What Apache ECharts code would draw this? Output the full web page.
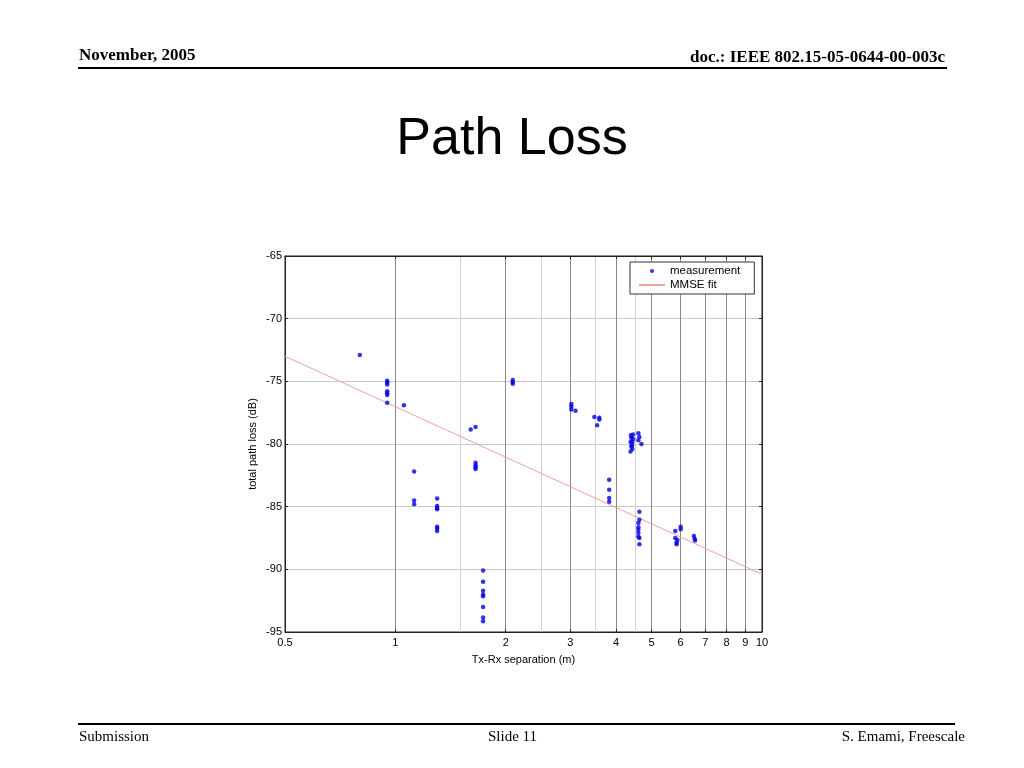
<!DOCTYPE html>
<html>
<head>
<meta charset="utf-8">
<script src="https://cdn.jsdelivr.net/npm/echarts@6/dist/echarts.min.js"></script>
<style>
html,body{margin:0;padding:0;background:#fff;}
#chart{width:1024px;height:768px;}
</style>
</head>
<body>
<div id="chart"></div>
<script>
// ---- data ----
var measDist = [
  0.80,
  0.95,0.95,0.95,0.95,0.95,0.95,0.95,
  1.055,
  1.125,1.125,1.125,
  1.30,1.30,1.30,1.30,1.30,1.30,1.30,
  1.605,1.655,
  1.655,1.655,1.655,1.655,
  1.735,1.735,1.735,1.735,1.735,1.735,1.735,1.735,
  2.09,2.09,2.09,
  3.02,3.02,3.02,3.10,
  3.49,3.60,3.60,3.55,
  3.83,3.83,3.83,3.83,
  4.39,4.45,4.60,4.40,4.43,4.63,4.60,4.69,4.40,4.43,4.38,4.42,4.45,4.38,
  4.63,4.63,4.60,4.60,4.60,4.60,4.60,4.63,4.63,
  5.80,6.00,6.00,5.80,5.88,5.85,5.85,
  6.52,6.55,6.57
];
var measLoss = [
  -72.9,
  -74.95,-75.1,-75.25,-75.8,-75.95,-76.1,-76.7,
  -76.9,
  -82.2,-84.5,-84.8,
  -84.35,-84.95,-85.1,-85.2,-86.6,-86.75,-86.95,
  -78.85,-78.65,
  -81.5,-81.7,-81.85,-82.0,
  -90.1,-91.0,-91.7,-92.0,-92.15,-93.0,-93.85,-94.15,
  -74.9,-75.05,-75.2,
  -76.8,-77.0,-77.25,-77.35,
  -77.85,-77.9,-78.05,-78.5,
  -82.85,-83.65,-84.3,-84.6,
  -79.3,-79.25,-79.15,-79.5,-79.85,-79.45,-79.7,-80.0,-80.2,-80.4,-80.6,-80.1,-79.6,-79.85,
  -85.4,-86.05,-86.3,-86.65,-86.85,-87.1,-87.4,-87.5,-88.0,
  -86.95,-86.6,-86.8,-87.5,-87.65,-87.85,-88.0,
  -87.35,-87.55,-87.7
];
var fitDist = [0.5, 10];
var fitLoss = [-73.0, -90.4];
var xTickMajor = [0.5,1,2,3,4,5,6,7,8,9,10];
var xTickMinor = [1.5,2.5,3.5,4.5];
var yTicks = [-95,-90,-85,-80,-75,-70,-65];

var measData = measDist.map(function(d,i){return [d, measLoss[i]];});
var fitData = fitDist.map(function(d,i){return [d, fitLoss[i]];});

var chart = echarts.init(document.getElementById('chart'), null, {renderer:'canvas'});
var axisFont = {fontFamily:'Liberation Sans, Arial, sans-serif', fontSize:11, color:'#000'};

var option = {
  backgroundColor:'#fff',
  animation:false,
  grid:{left:285, top:256, right:262, bottom:136, show:true, borderColor:'#222', borderWidth:1, backgroundColor:'transparent', containLabel:false},
  legend:{
    left:630, top:262, orient:'vertical',
    data:[{name:'measurement'},{name:'MMSE fit', itemStyle:{opacity:0}}],
    borderColor:'#333', borderWidth:1, backgroundColor:'#fff',
    padding:[2,14,2,8], itemGap:0, itemWidth:26, itemHeight:4,
    textStyle:{fontFamily:'Liberation Sans, Arial, sans-serif', fontSize:11.5, color:'#000', lineHeight:14}
  },
  xAxis:[{
    type:'log', logBase:10, min:0.5, max:10,
    name:'Tx-Rx separation (m)', nameLocation:'middle', nameGap:22,
    nameTextStyle:axisFont,
    axisLine:{show:true, lineStyle:{color:'#222'}},
    axisTick:{show:true, inside:true, length:3, customValues:xTickMajor, lineStyle:{color:'#222'}},
    axisLabel:Object.assign({customValues:xTickMajor, margin:5, formatter:function(v){return String(+v.toFixed(2));}}, axisFont),
    splitLine:{show:true, lineStyle:{color:'#8a8a8a', width:1}},
    minorTick:{show:false}
  },{
    type:'log', logBase:10, min:0.5, max:10, position:'bottom',
    axisLine:{show:false},
    axisTick:{show:false, customValues:xTickMinor},
    axisLabel:{show:false, customValues:xTickMinor},
    splitLine:{show:true, lineStyle:{color:'#d2d2d2', width:1}}
  },{
    type:'log', logBase:10, min:0.5, max:10, position:'top',
    axisLine:{show:true, lineStyle:{color:'#222'}},
    axisTick:{show:true, inside:true, length:3, customValues:xTickMajor, lineStyle:{color:'#222'}},
    axisLabel:{show:false, customValues:xTickMajor},
    splitLine:{show:false}
  }],
  yAxis:[{
    type:'value', min:-95, max:-65, interval:5,
    name:'total path loss (dB)', nameLocation:'middle', nameGap:27,
    nameTextStyle:axisFont,
    axisLine:{show:true, lineStyle:{color:'#222'}},
    axisTick:{show:true, inside:true, length:3, lineStyle:{color:'#222'}},
    axisLabel:Object.assign({margin:3}, axisFont),
    splitLine:{show:true, lineStyle:{color:'#c8c8c8', width:1}}
  },{
    type:'value', min:-95, max:-65, interval:5, position:'right',
    axisLine:{show:true, lineStyle:{color:'#222'}},
    axisTick:{show:true, inside:true, length:3, lineStyle:{color:'#222'}},
    axisLabel:{show:false},
    splitLine:{show:false}
  }],
  series:[{
    name:'measurement', type:'scatter', xAxisIndex:0, yAxisIndex:0,
    data:measData, symbol:'circle', symbolSize:4.5,
    itemStyle:{color:'#0000e6'}, z:5
  },{
    name:'MMSE fit', type:'line', xAxisIndex:0, yAxisIndex:0,
    data:fitData, showSymbol:false, symbol:'none',
    lineStyle:{color:'#f2a0a0', width:1}, z:4
  }],
  graphic:[
    {type:'text', left:79, top:47, style:{text:'November, 2005', font:'bold 17px "Liberation Serif", "Times New Roman", serif', fill:'#000'}},
    {type:'text', right:79, top:49, style:{text:'doc.: IEEE 802.15-05-0644-00-003c', font:'bold 17px "Liberation Serif", "Times New Roman", serif', fill:'#000'}},
    {type:'rect', shape:{x:78, y:67, width:869, height:2}, style:{fill:'#000'}},
    {type:'text', left:'center', top:114, style:{text:'Path Loss', font:'52px "Liberation Sans", Arial, sans-serif', fill:'#000'}},
    {type:'rect', shape:{x:78, y:723, width:877, height:2}, style:{fill:'#000'}},
    {type:'text', left:79, top:730, style:{text:'Submission', font:'15px "Liberation Serif", "Times New Roman", serif', fill:'#000'}},
    {type:'text', left:488, top:730, style:{text:'Slide 11', font:'15px "Liberation Serif", "Times New Roman", serif', fill:'#000'}},
    {type:'text', right:59, top:730, style:{text:'S. Emami, Freescale', font:'15px "Liberation Serif", "Times New Roman", serif', fill:'#000'}}
  ]
};
chart.setOption(option);
</script>
</body>
</html>
